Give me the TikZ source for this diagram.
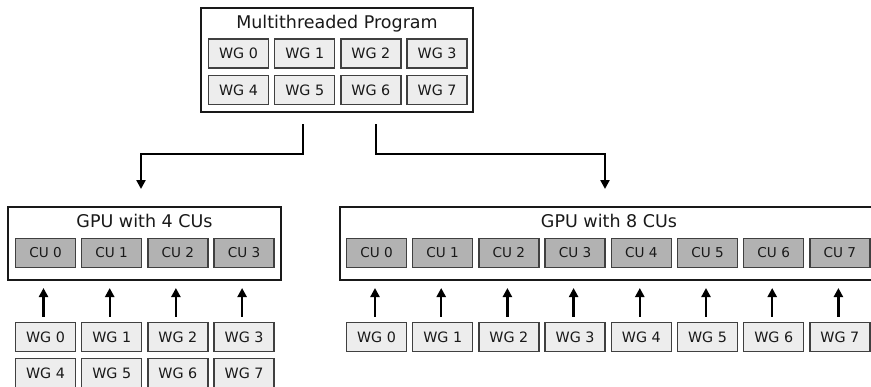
\documentclass[tikz,border=0pt]{standalone}
\usepackage{fontspec}
\setmainfont{DejaVu Sans}
\usetikzlibrary{arrows.meta}
\tikzset{
  outerbox/.style={draw=black!90, line width=2pt, fill=white, inner sep=0pt},
  titletext/.style={font=\fontsize{17.5}{20}\selectfont, text=black!90, inner sep=0pt, anchor=base},
  wgbox/.style={draw=black!75, line width=1.5pt, fill=black!7, minimum width=60pt, minimum height=29pt, inner sep=0pt, font=\fontsize{14.3}{16}\selectfont, text=black!90},
  cubox/.style={wgbox, fill=black!30, font=\fontsize{13.6}{15}\selectfont},
  conn/.style={line width=2.3pt, draw=black, -{Triangle[length=9pt,width=9pt]}},
}
\begin{document}
\begin{tikzpicture}[x=1pt,y=-1pt]
\path[use as bounding box, fill=white] (0,0) rectangle (871,386);

% Program box
\node[outerbox, minimum width=272pt, minimum height=104pt] (prog) at (337,60) {};
\node[titletext] (progtitle) at (337,28) {Multithreaded Program};
\foreach \i [evaluate=\i as \j using int(\i+4)] in {0,...,3} {
  \node[wgbox] (pa\i) at ({238.5+66.2*\i},53.5) {WG \i};
  \node[wgbox] (pa\j) at ({238.5+66.2*\i},90) {WG \j};
}

% GPU with 4 CUs
\node[outerbox, minimum width=273pt, minimum height=73pt] (gpu4) at (144.5,243.5) {};
\node[titletext] (gpu4title) at (144.5,227) {GPU with 4 CUs};
\foreach \i [evaluate=\i as \j using int(\i+4)] in {0,...,3} {
  \node[cubox] (ca\i) at ({45.5+66.2*\i},253) {CU \i};
  \node[wgbox] (wa\i) at ({45.5+66.2*\i},337) {WG \i};
  \node[wgbox] (wa\j) at ({45.5+66.2*\i},373) {WG \j};
  \draw[conn, shorten <=5pt, shorten >=7pt] ([xshift=-2pt]wa\i.north) -- ([xshift=-2pt]wa\i.north |- gpu4.south);
}

% GPU with 8 CUs
\node[outerbox, minimum width=536pt, minimum height=73pt] (gpu8) at (608,243.5) {};
\node[titletext] (gpu8title) at (609,227) {GPU with 8 CUs};
\foreach \i in {0,...,7} {
  \node[cubox] (cb\i) at ({376.5+66.2*\i},253) {CU \i};
  \node[wgbox] (wb\i) at ({376.5+66.2*\i},337) {WG \i};
  \draw[conn, shorten <=5pt, shorten >=7pt] ([xshift=-1.5pt]wb\i.north) -- ([xshift=-1.5pt]wb\i.north |- gpu8.south);
}

% Distribution connectors
\draw[conn, shorten <=11pt, shorten >=17pt] ([xshift=-34pt]prog.south) -- ++(0,41) -| ([xshift=-3.5pt]gpu4.north);
\draw[conn, shorten <=11pt, shorten >=17pt] ([xshift=39pt]prog.south) -- ++(0,41) -| ([xshift=-3pt]gpu8.north);
\end{tikzpicture}
\end{document}
